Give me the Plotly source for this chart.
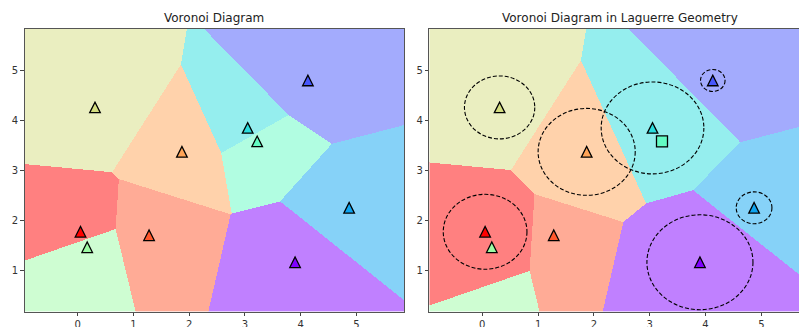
import numpy as np
import plotly.graph_objects as go

# Sites (x, y), circle radii for the Laguerre (power) diagram, and colours
site_x = [0.05, 1.28, 1.87, 0.31, 0.17, 3.22, 3.05, 4.87, 4.13, 3.90]
site_y = [1.78, 1.71, 3.38, 4.27, 1.47, 3.59, 3.86, 2.26, 4.81, 1.17]
site_radius = [0.75, 0.0, 0.87, 0.63, 0.0, 0.0, 0.92, 0.32, 0.22, 0.95]
site_colors = [
    (255, 0, 0), (255, 87, 44), (255, 164, 87), (212, 221, 128), (156, 251, 164),
    (99, 251, 195), (43, 221, 221), (14, 164, 240), (71, 87, 251), (128, 0, 255),
]

titles = ["Voronoi Diagram", "Voronoi Diagram in Laguerre Geometry"]
x_ticks = [0, 1, 2, 3, 4, 5]
y_ticks = [1, 2, 3, 4, 5]

W, H = 799, 327
X_RANGE_L = [-0.955, 5.86]
X_RANGE_R = [-0.95, 5.675]
Y_RANGE = [0.18, 5.85]

# axes placement in pixels
LEFT_PX = (24.5, 404.3)
RIGHT_PX = (429.3, 799.0)
TOP_PX, BOTTOM_PX = 28.5, 311.7

px = np.array(site_x)
py = np.array(site_y)
pr = np.array(site_radius)


def cell_index(xr, yr, nx, ny, radii):
    """Index of the site owning each grid cell (power distance)."""
    xs = xr[0] + (np.arange(nx) + 0.5) * (xr[1] - xr[0]) / nx
    ys = yr[0] + (np.arange(ny) + 0.5) * (yr[1] - yr[0]) / ny
    gx, gy = np.meshgrid(xs, ys)
    d = (gx[..., None] - px) ** 2 + (gy[..., None] - py) ** 2 - radii ** 2
    return xs, ys, np.argmin(d, axis=-1)


def rgb(c):
    return "rgb(%d,%d,%d)" % c


def pale(c, a=0.5):
    return "rgb(%d,%d,%d)" % tuple(round(a * v + (1 - a) * 255) for v in c)


n = len(site_x)
scale = []
for k, c in enumerate(site_colors):
    scale.append([k / n, pale(c)])
    scale.append([(k + 1) / n, pale(c)])

fig = go.Figure()

xsL, ysL, idxL = cell_index(X_RANGE_L, Y_RANGE, 380, 283, np.zeros(n))
xsR, ysR, idxR = cell_index(X_RANGE_R, Y_RANGE, 370, 283, pr)

for xs, ys, idx, xa, ya in [(xsL, ysL, idxL, "x", "y"), (xsR, ysR, idxR, "x2", "y2")]:
    fig.add_trace(go.Heatmap(
        x=xs, y=ys, z=idx.tolist(), zmin=-0.5, zmax=n - 0.5,
        colorscale=scale, showscale=False, zsmooth=False,
        hoverinfo="skip", xaxis=xa, yaxis=ya,
    ))

# Sites whose power cell vanished are drawn as squares
occupied = set(np.unique(idxR).tolist())
marker_colors = [rgb(c) for c in site_colors]

sq = [k for k in range(n) if k not in occupied]
fig.add_trace(go.Scatter(
    x=[site_x[k] for k in sq], y=[site_y[k] for k in sq], mode="markers",
    xaxis="x2", yaxis="y2",
    marker=dict(symbol="square", size=11, color=[marker_colors[k] for k in sq],
                line=dict(color="black", width=1.3)),
    hoverinfo="skip", showlegend=False,
))

shapes = []
for cx, cy, r in zip(site_x, site_y, site_radius):
    if r > 0:
        shapes.append(dict(type="circle", xref="x2", yref="y2",
                           x0=cx - r, x1=cx + r, y0=cy - r, y1=cy + r,
                           line=dict(color="black", width=1.1, dash="4px,2px")))

# equilateral-looking "^" site markers, half size given in pixels
HALF_PX = 5.3
y_per_px = (Y_RANGE[1] - Y_RANGE[0]) / (BOTTOM_PX - TOP_PX)


def triangle(cx, cy, xr, pxspan, xref, yref, color):
    x_per_px = (xr[1] - xr[0]) / (pxspan[1] - pxspan[0])
    dx = HALF_PX * x_per_px
    dy = HALF_PX * y_per_px
    path = "M %.4f,%.4f L %.4f,%.4f L %.4f,%.4f Z" % (
        cx - dx, cy - dy, cx + dx, cy - dy, cx, cy + dy)
    return dict(type="path", path=path, xref=xref, yref=yref, layer="above",
                fillcolor=color, line=dict(color="black", width=1.3))


for k in range(n):
    shapes.append(triangle(site_x[k], site_y[k], X_RANGE_L, LEFT_PX, "x", "y",
                           marker_colors[k]))
for k in range(n):
    if k in occupied:
        shapes.append(triangle(site_x[k], site_y[k], X_RANGE_R, RIGHT_PX,
                               "x2", "y2", marker_colors[k]))

y_dom = [1 - BOTTOM_PX / H, 1 - TOP_PX / H]
axis_common = dict(
    showgrid=False, zeroline=False, showline=True, linecolor="#555", linewidth=1,
    ticks="outside", ticklen=3.5, tickwidth=1, tickcolor="#444", automargin=False,
    tickfont=dict(family="DejaVu Sans", size=10, color="#333"),
)

fig.update_layout(
    width=W, height=H, margin=dict(l=0, r=0, t=0, b=0, autoexpand=False),
    paper_bgcolor="white", plot_bgcolor="white", showlegend=False,
    xaxis=dict(domain=[LEFT_PX[0] / W, LEFT_PX[1] / W], range=X_RANGE_L,
               tickvals=x_ticks, mirror=True, anchor="y", **axis_common),
    yaxis=dict(domain=y_dom, range=Y_RANGE, tickvals=y_ticks, mirror=True,
               anchor="x", **axis_common),
    xaxis2=dict(domain=[RIGHT_PX[0] / W, RIGHT_PX[1] / W], range=X_RANGE_R,
                tickvals=x_ticks, mirror=True, anchor="y2", **axis_common),
    yaxis2=dict(domain=y_dom, range=Y_RANGE, tickvals=y_ticks, mirror=False,
                anchor="x2", **axis_common),
    shapes=shapes,
    annotations=[
        dict(text=titles[0], xref="paper", yref="paper", x=214.4 / W, y=1 - 18 / H,
             xanchor="center", yanchor="middle", showarrow=False,
             font=dict(family="DejaVu Sans", size=12, color="#222")),
        dict(text=titles[1], xref="paper", yref="paper", x=619.7 / W, y=1 - 18 / H,
             xanchor="center", yanchor="middle", showarrow=False,
             font=dict(family="DejaVu Sans", size=12, color="#222")),
    ],
)

fig.write_html("out.html")
